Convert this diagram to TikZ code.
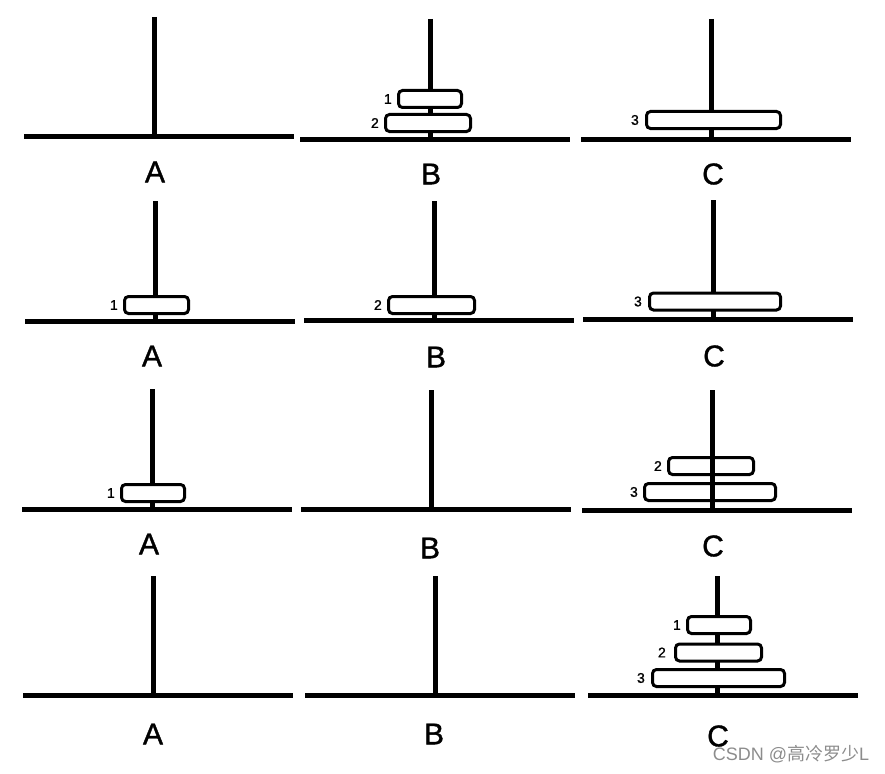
\documentclass[tikz,border=0pt]{standalone}
\usepackage{fontspec}
\setmainfont{Liberation Sans}
\newfontfamily\pegfont[FakeBold=1.2]{Liberation Sans}
\newfontfamily\cjk{Noto Sans CJK SC}
\begin{document}
\begin{tikzpicture}[x=1pt,y=-1pt,
  pole/.style={line width=5pt},
  baseline/.style={line width=5pt},
  disk/.style={draw,line width=3pt,rounded corners=4pt,fill=white,inner sep=0pt,minimum height=17pt},
  diskopen/.style={draw,line width=3pt,rounded corners=4pt,inner sep=0pt,minimum height=17pt},
  dnum/.style={font=\pegfont\fontsize{14}{16}\selectfont,inner sep=0pt,anchor=east},
  peg/.style={font=\pegfont\fontsize{30}{36}\selectfont,inner sep=0pt}]
\useasboundingbox (0,0) rectangle (885,773);
% ---------- row 1 ----------
\coordinate (p1at) at (154,17);  \coordinate (p1ab) at (154,136);
\coordinate (b1al) at (24,136);  \coordinate (b1ar) at (294,136);
\draw[pole] (p1at) -- (p1ab); \draw[baseline] (b1al) -- (b1ar);
\node[peg] (l1a) at (155,172) {A};
\coordinate (p1bt) at (430,19);  \coordinate (p1bb) at (430,139);
\coordinate (b1bl) at (300,139); \coordinate (b1br) at (570,139);
\draw[pole] (p1bt) -- (p1bb); \draw[baseline] (b1bl) -- (b1br);
\node[disk,minimum width=63pt] (d1b1) at (430,99) {};
\node[disk,minimum width=85pt] (d1b2) at (428,123) {};
\node[dnum] (n1b1) at ([xshift=-5pt]d1b1.west) {1};
\node[dnum] (n1b2) at ([xshift=-5pt]d1b2.west) {2};
\node[peg] (l1b) at (431,174) {B};
\coordinate (p1ct) at (711,19);  \coordinate (p1cb) at (711,139);
\coordinate (b1cl) at (581,139); \coordinate (b1cr) at (851,139);
\draw[pole] (p1ct) -- (p1cb); \draw[baseline] (b1cl) -- (b1cr);
\node[disk,minimum width=134pt] (d1c3) at (713.5,120) {};
\node[dnum] (n1c3) at ([xshift=-6pt]d1c3.west) {3};
\node[peg] (l1c) at (713,174) {C};
% ---------- row 2 ----------
\coordinate (p2at) at (155,201); \coordinate (p2ab) at (155,321);
\coordinate (b2al) at (25,321);  \coordinate (b2ar) at (295,321);
\draw[pole] (p2at) -- (p2ab); \draw[baseline] (b2al) -- (b2ar);
\node[disk,minimum width=64pt] (d2a1) at (156.5,305) {};
\node[dnum] (n2a1) at ([xshift=-5pt]d2a1.west) {1};
\node[peg] (l2a) at (152,356) {A};
\coordinate (p2bt) at (434,201); \coordinate (p2bb) at (434,320);
\coordinate (b2bl) at (304,320); \coordinate (b2br) at (574,320);
\draw[pole] (p2bt) -- (p2bb); \draw[baseline] (b2bl) -- (b2br);
\node[disk,minimum width=86pt] (d2b2) at (431.5,305) {};
\node[dnum] (n2b2) at ([xshift=-5pt]d2b2.west) {2};
\node[peg] (l2b) at (436,357) {B};
\coordinate (p2ct) at (713,200); \coordinate (p2cb) at (713,319);
\coordinate (b2cl) at (583,319); \coordinate (b2cr) at (853,319);
\draw[pole] (p2ct) -- (p2cb); \draw[baseline] (b2cl) -- (b2cr);
\node[disk,minimum width=131pt] (d2c3) at (715,301.5) {};
\node[dnum] (n2c3) at ([xshift=-6pt]d2c3.west) {3};
\node[peg] (l2c) at (714,356) {C};
% ---------- row 3 ----------
\coordinate (p3at) at (152,389); \coordinate (p3ab) at (152,509);
\coordinate (b3al) at (22,509);  \coordinate (b3ar) at (292,509);
\draw[pole] (p3at) -- (p3ab); \draw[baseline] (b3al) -- (b3ar);
\node[disk,minimum width=63pt] (d3a1) at (153,493) {};
\node[dnum] (n3a1) at ([xshift=-5pt]d3a1.west) {1};
\node[peg] (l3a) at (149,544) {A};
\coordinate (p3bt) at (431,390); \coordinate (p3bb) at (431,509);
\coordinate (b3bl) at (301,509); \coordinate (b3br) at (571,509);
\draw[pole] (p3bt) -- (p3bb); \draw[baseline] (b3bl) -- (b3br);
\node[peg] (l3b) at (430,548) {B};
\coordinate (p3ct) at (712,390); \coordinate (p3cb) at (712,510);
\coordinate (b3cl) at (582,510); \coordinate (b3cr) at (852,510);
\draw[pole] (p3ct) -- (p3cb); \draw[baseline] (b3cl) -- (b3cr);
\node[diskopen,minimum width=85pt] (d3c2) at (711,466) {};
\node[diskopen,minimum width=131pt] (d3c3) at (710,492) {};
\node[dnum] (n3c2) at ([xshift=-5pt]d3c2.west) {2};
\node[dnum] (n3c3) at ([xshift=-5pt]d3c3.west) {3};
\node[peg] (l3c) at (713,546) {C};
% ---------- row 4 ----------
\coordinate (p4at) at (153,576); \coordinate (p4ab) at (153,695);
\coordinate (b4al) at (23,695);  \coordinate (b4ar) at (293,695);
\draw[pole] (p4at) -- (p4ab); \draw[baseline] (b4al) -- (b4ar);
\node[peg] (l4a) at (153,734) {A};
\coordinate (p4bt) at (435,576); \coordinate (p4bb) at (435,695);
\coordinate (b4bl) at (305,695); \coordinate (b4br) at (575,695);
\draw[pole] (p4bt) -- (p4bb); \draw[baseline] (b4bl) -- (b4br);
\node[peg] (l4b) at (434,734) {B};
\coordinate (p4ct) at (717,576); \coordinate (p4cb) at (717,695);
\coordinate (b4cl) at (588,695); \coordinate (b4cr) at (858,695);
\draw[pole] (p4ct) -- (p4cb); \draw[baseline] (b4cl) -- (b4cr);
\node[disk,minimum width=63pt] (d4c1) at (719,625) {};
\node[disk,minimum width=86pt] (d4c2) at (718.5,652.5) {};
\node[disk,minimum width=132pt] (d4c3) at (718.5,678) {};
\node[dnum] (n4c1) at ([xshift=-5pt]d4c1.west) {1};
\node[dnum] (n4c2) at ([xshift=-8pt]d4c2.west) {2};
\node[dnum] (n4c3) at ([xshift=-6pt]d4c3.west) {3};
\node[peg] (l4c) at (718,736) {C};
% watermark
\node[text=black!45,font=\fontsize{18}{21}\selectfont,inner sep=0pt] (wm) at (791,754) {CSDN @{\cjk 高冷罗少}L};
\end{tikzpicture}
\end{document}
